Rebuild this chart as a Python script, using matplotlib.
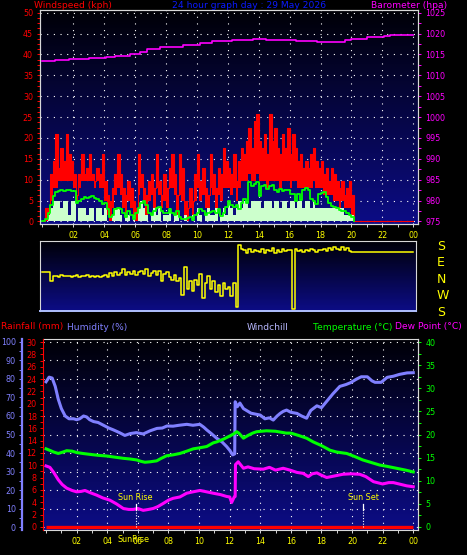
"""24 hour weather station graph: wind, wind direction, humidity / temperature.

python3 plot.py  ->  out.png
"""

import matplotlib
import numpy as np
from matplotlib.colors import LinearSegmentedColormap
from matplotlib.ticker import AutoMinorLocator, FixedLocator, MultipleLocator

matplotlib.use("Agg")
import matplotlib.pyplot as plt  # noqa: E402
import matplotlib.transforms as mtransforms  # noqa: E402

W, H = 467, 555
OUT_PNG = "out.png"

# ---- x axis -------------------------------------------------------------
HOUR_TICKS = [2, 4, 6, 8, 10, 12, 14, 16, 18, 20, 22, 24]
HOUR_LABELS = ["02", "04", "06", "08", "10", "12", "14", "16", "18", "20", "22", "00"]

# ---- wind, 10-minute samples from 00:00 (kph) ---------------------------
gust_hi = [
    0, 3.2, 3.2, 11.3, 14.5, 20.9,
    12.9, 17.7, 14.5, 20.9, 16.1, 14.5,
    11.3, 6.4, 11.3, 16.1, 11.3, 12.9,
    16.1, 11.3, 9.7, 12.9, 11.3, 16.1,
    9.7, 6.4, 4.8, 8.0, 11.3, 16.1,
    11.3, 8.0, 6.4, 9.7, 8.0, 4.8,
    3.2, 16.1, 11.3, 8.0, 6.4, 9.7,
    11.3, 8.0, 16.1, 9.7, 6.4, 11.3,
    8.0, 12.9, 16.1, 11.3, 6.4, 16.1,
    12.9, 4.8, 3.2, 8.0, 4.8, 11.3,
    16.1, 9.7, 12.9, 8.0, 6.4, 16.1,
    11.3, 8.0, 12.9, 11.3, 17.7, 14.5,
    12.9, 11.3, 16.1, 9.7, 14.5, 17.7,
    16.1, 19.3, 22.5, 17.7, 24.1, 25.7,
    19.3, 17.7, 20.9, 16.1, 25.7, 19.3,
    22.5, 17.7, 16.1, 20.9, 17.7, 22.5,
    16.1, 20.9, 17.7, 14.5, 16.1, 12.9,
    14.5, 12.9, 16.1, 17.7, 14.5, 12.9,
    14.5, 11.3, 12.9, 9.7, 12.9, 11.3,
    9.7, 8.0, 9.7, 6.4, 8.0, 9.7,
    6.4, 0,
]
gust_lo = [
    0, 0, 1.6, 4.8, 8.0, 8.0,
    9.7, 9.7, 9.7, 9.7, 9.7, 9.7,
    8.0, 4.8, 8.0, 9.7, 9.7, 9.7,
    9.7, 9.7, 8.0, 9.7, 8.0, 8.0,
    4.8, 1.6, 0, 3.2, 6.4, 8.0,
    6.4, 3.2, 1.6, 4.8, 3.2, 1.6,
    0, 6.4, 8.0, 4.8, 1.6, 4.8,
    6.4, 3.2, 8.0, 6.4, 3.2, 4.8,
    3.2, 8.0, 8.0, 6.4, 1.6, 6.4,
    4.8, 1.6, 0, 3.2, 1.6, 4.8,
    8.0, 4.8, 6.4, 3.2, 1.6, 8.0,
    6.4, 3.2, 6.4, 4.8, 8.0, 8.0,
    8.0, 6.4, 8.0, 4.8, 8.0, 9.7,
    9.7, 9.7, 11.3, 9.7, 9.7, 11.3,
    9.7, 9.7, 9.7, 8.0, 9.7, 9.7,
    9.7, 9.7, 8.0, 9.7, 9.7, 9.7,
    8.0, 9.7, 9.7, 8.0, 8.0, 8.0,
    8.0, 8.0, 8.0, 9.7, 8.0, 8.0,
    8.0, 6.4, 6.4, 6.4, 6.4, 4.8,
    4.8, 3.2, 4.8, 3.2, 3.2, 3.2,
    1.6, 0,
]
wind_avg = [
    0, 0.5, 2, 4, 6, 7,
    7.2, 7.5, 7.2, 7.5, 7.6, 7.4,
    7.2, 4.5, 4.8, 5.5, 5.8, 5.6,
    5.8, 6, 5.6, 5.5, 4.8, 4.2,
    4.5, 3, 1, 1.5, 3, 3.2,
    3, 2, 1, 2.5, 1.5, 0.5,
    2, 3.2, 4.5, 5, 4, 2,
    1.5, 2.5, 3.2, 3.5, 2.5, 2,
    2, 3, 2, 1.5, 2.5, 1,
    0.5, 0.5, 0.8, 1, 0.3, 1.5,
    2, 3, 2.5, 1.5, 2, 2.2,
    2.5, 2, 3, 1.2, 2, 3.5,
    5, 4, 3.5, 4, 3, 4.5,
    5.5, 4.5, 9.5, 8.5, 9, 9.4,
    6, 8.5, 8.8, 7.8, 8.5, 8.8,
    7.5, 7, 7.8, 7.2, 7.5, 7.5,
    6.6, 6.5, 5, 6.5, 5.2, 7.5,
    8, 7.5, 5.4, 5, 4.2, 6.6,
    6.8, 7, 5.8, 4.5, 3.6, 3.4,
    3.2, 2.8, 2.5, 2.4, 2, 1.5,
    1, 0,
]
wind_speed = [
    0, 0, 1.6, 3.2, 4.8, 4.8,
    4.8, 3.2, 4.8, 4.8, 1.6, 4.8,
    4.8, 0, 3.2, 3.2, 3.2, 1.6,
    3.2, 3.2, 0, 3.2, 3.2, 1.6,
    3.2, 0, 0, 1.6, 3.2, 3.2,
    1.6, 0, 1.6, 1.6, 0, 1.6,
    0, 3.2, 4.8, 3.2, 1.6, 0,
    1.6, 3.2, 1.6, 3.2, 0, 1.6,
    1.6, 3.2, 0, 1.6, 1.6, 0,
    0, 1.6, 0, 0, 1.6, 0,
    3.2, 1.6, 0, 1.6, 3.2, 1.6,
    1.6, 3.2, 0, 1.6, 3.2, 1.6,
    4.8, 3.2, 1.6, 3.2, 4.8, 3.2,
    4.8, 4.8, 3.2, 4.8, 4.8, 4.8,
    4.8, 3.2, 4.8, 4.8, 4.8, 3.2,
    4.8, 4.8, 3.2, 4.8, 4.8, 3.2,
    4.8, 4.8, 3.2, 4.8, 4.8, 3.2,
    4.8, 4.8, 3.2, 4.8, 3.2, 3.2,
    3.2, 3.2, 3.2, 3.2, 3.2, 3.2,
    3.2, 3.2, 3.2, 1.6, 1.6, 1.6,
    1.6, 0,
]
# compass degrees, same 10-minute samples; steady at 140 after 20:10
wind_dir = [
    34, 30, 34, 340, 10, 12,
    5, 15, 10, 8, 12, 5,
    10, 18, 5, 12, 8, 15,
    5, 10, 2, 12, 6, 8,
    15, 5, 25, 8, 30, 18,
    25, 49, 15, 30, 20, 35,
    15, 30, 40, 20, 49, 10,
    25, 35, 15, 40, 345, 20,
    30, 5, 350, 15, 340, 0,
    267, 62, 300, 340, 285, 350,
    320, 20, 250, 330, 10, 300,
    340, 280, 320, 260, 330, 300,
    310, 259, 330, 200, 178, 160,
    150, 135, 160, 140, 155, 145,
    140, 160, 135, 150, 145, 165,
    135, 150, 140, 160, 145, 150,
    155, 191, 160, 145, 150, 140,
    155, 145, 160, 150, 140, 155,
    150, 160, 145, 165, 155, 170,
    160, 150, 170, 155, 165, 148,
    140, 140,
]
DIR_TICKS = [180, 90, 0, -90, -180]
DIR_LABELS = ["S", "E", "N", "W", "S"]

# ---- barometer (hPa) ----------------------------------------------------
baro_hours = [0, 0.8, 1.7, 3.0, 4.1, 4.7, 5.7, 6.3, 6.8, 7.6, 8.2, 9.1, 10.2,
              11.0, 12.3, 13.6, 14.5, 16.4, 17.8, 19.6, 20.0, 21.0, 22.1, 22.5, 24.0]
baro_hpa = [1013.4, 1013.6, 1014.0, 1014.1, 1014.5, 1014.6, 1015.1, 1015.7, 1016.3,
            1016.7, 1016.9, 1017.2, 1017.8, 1018.2, 1018.5, 1018.7, 1018.4, 1018.2,
            1018.1, 1018.4, 1018.7, 1019.1, 1019.4, 1019.7, 1019.7]

# ---- humidity (%) -------------------------------------------------------
hum_hours = [0.0, 0.2, 0.4, 0.6, 0.8, 1.0, 1.25, 1.5, 1.8, 2.0, 2.2, 2.45, 2.65,
             2.85, 3.1, 3.4, 3.75, 4.1, 4.4, 4.8, 5.15, 5.5, 5.9, 6.35, 6.8, 7.25,
             7.6, 7.9, 8.3, 8.7, 9.2, 9.6, 10.05, 10.3, 10.5, 10.8, 11.15, 11.5,
             11.8, 12.0, 12.2, 12.33, 12.36, 12.5, 12.67, 12.9, 13.1, 13.4, 13.7,
             14.0, 14.3, 14.6, 14.85, 15.1, 15.3, 15.5, 15.72, 16.0, 16.4, 16.7,
             17.03, 17.3, 17.7, 18.0, 18.35, 18.75, 19.2, 19.6, 19.9, 20.3, 20.6,
             21.0, 21.3, 21.5, 21.9, 22.3, 22.7, 23.1, 23.6, 24.0]
humidity = [78.5, 81, 80.5, 76, 69, 64, 60, 58.5, 58.5, 58, 58.5, 60, 59.5,
            58, 57, 56.5, 55, 53.5, 52.5, 51, 49.5, 50.5, 51, 50.3, 52, 53.3,
            53.5, 54.6, 54.5, 55, 55.5, 55, 55.5, 54, 52.5, 50.5, 48, 46,
            43.5, 41.5, 39, 39.5, 67.7, 65, 67, 64, 63, 61.5, 61,
            60.5, 58.5, 59, 57.8, 60, 61.4, 62.5, 63.2, 62, 61.4, 60,
            58.8, 63, 65.5, 64.5, 68, 72, 76, 77, 78, 80, 81.2,
            81.2, 79, 78.2, 78.2, 80.9, 81.5, 82.5, 83.3, 83.4]

# ---- temperature and dew point (deg C) ----------------------------------
temp_hours = [0.0, 0.3, 0.5, 0.8, 1.1, 1.35, 1.7, 2.0, 2.4, 2.87, 3.4, 3.96, 4.5,
              5.05, 5.5, 5.92, 6.2, 6.46, 6.8, 7.23, 7.5, 7.88, 8.3, 8.75, 9.2,
              9.62, 10.0, 10.5, 10.93, 11.15, 11.6, 12.02, 12.3, 12.46, 12.6,
              12.9, 13.2, 13.5, 13.76, 14.4, 15.0, 15.7, 16.0, 16.5, 17.03, 17.46,
              18.0, 18.56, 19.0, 19.65, 20.2, 20.7, 21.2, 21.8, 22.3, 22.9, 23.5, 24.0]
temperature = [16.9, 16.5, 16.2, 15.9, 16.2, 16.5, 16.4, 16.1, 15.9, 15.7, 15.5,
               15.35, 15.1, 14.85, 14.7, 14.5, 14.2, 14.0, 14.1, 14.3, 14.8, 15.4,
               15.6, 15.9, 16.4, 16.9, 17.1, 17.4, 18.2, 18.4, 19.0, 19.7, 20.2,
               20.6, 20.3, 19.2, 19.8, 20.3, 20.6, 20.8, 20.7, 20.3, 20.3, 19.8,
               19.2, 18.4, 17.6, 16.6, 16.2, 15.9, 15.2, 14.5, 14.0, 13.4, 13.1,
               12.7, 12.3, 11.9]
dew_hours = [0.0, 0.25, 0.5, 0.8, 1.05, 1.35, 1.7, 2.0, 2.3, 2.54, 2.9, 3.3, 3.7,
             4.17, 4.6, 5.05, 5.4, 5.7, 6.0, 6.35, 6.7, 7.0, 7.3, 7.66, 8.0, 8.3,
             8.75, 9.19, 9.6, 10.06, 10.5, 10.93, 11.4, 11.8, 12.0, 12.13, 12.3,
             12.36, 12.38, 12.56, 12.9, 13.2, 13.6, 14.2, 14.6, 15.0, 15.5, 15.94,
             16.4, 16.8, 17.14, 17.4, 17.7, 18.0, 18.34, 18.8, 19.4, 19.9, 20.5,
             20.9, 21.4, 22.0, 22.4, 22.7, 23.2, 23.57, 24.0]
dew_point = [13.2, 12.9, 11.8, 10.2, 9.2, 8.4, 7.9, 7.6, 7.7, 7.9, 7.4, 6.9, 6.3,
             5.8, 5.0, 4.0, 3.8, 3.8, 4.0, 3.6, 3.8, 4.0, 4.4, 5.1, 5.8, 6.2,
             6.5, 7.3, 7.6, 7.9, 7.6, 7.3, 7.0, 6.6, 6.5, 5.3, 6.5,
             6.6, 13.5, 14.1, 12.7, 13.0, 12.6, 12.5, 12.9, 12.3, 12.7, 12.3,
             11.8, 11.6, 10.9, 11.5, 11.7, 11.2, 10.7, 11.0, 11.4, 11.5, 11.4,
             10.9, 9.8, 9.3, 9.6, 9.6, 9.2, 8.9, 8.7]

# ---- rainfall (mm): none all day ---------------------------------------
rain_hours = [0.0, 24.0]
rain_mm = [0.0, 0.0]

SUN_EVENTS = [("Sun Rise", 5.86), ("Sun Set", 20.72)]

FRAME = "#d8d8d8"
GRID = dict(color="white", linestyle=(0, (1, 5)), linewidth=0.8)
SKY = LinearSegmentedColormap.from_list("sky", ["#0c0c86", "#000006"])
TICK_FS = 5.8
HEAD_FS = 6.6


def px_rect(left, top, right, bottom):
    """Axes rectangle from pixel edges (origin top-left)."""
    return [left / W, 1 - bottom / H, (right - left) / W, (bottom - top) / H]


def backdrop(ax):
    ramp = np.linspace(0, 1, 256).reshape(-1, 1)
    ax.imshow(ramp, cmap=SKY, aspect="auto", extent=(0, 1, 0, 1), origin="lower",
              transform=ax.transAxes, interpolation="bilinear", zorder=0)


def hour_axis(ax):
    ax.xaxis.set_major_locator(FixedLocator(HOUR_TICKS))
    ax.set_xticklabels(HOUR_LABELS)
    ax.xaxis.set_minor_locator(MultipleLocator(1))
    ax.tick_params(axis="x", which="both", colors=FRAME, labelcolor="#ffff00",
                   labelsize=TICK_FS, length=2, width=0.7, pad=3)


def head(x, y, text, color, ha="left"):
    plt.gcf().text(x / W, 1 - y / H, text, color=color, fontsize=HEAD_FS,
                   ha=ha, va="center")


fig = plt.figure(figsize=(W / 100, H / 100), dpi=100, facecolor="black")

# ---------------- wind speed + barometer ----------------
t_wind = np.arange(len(gust_hi)) / 6
t_tail = np.append(t_wind, 24.0)

ax = fig.add_axes(px_rect(40, 10, 418, 224))
backdrop(ax)
ax.set_axisbelow(True)
ax.fill_between(t_wind, gust_lo, gust_hi, step="post", color="#ff0000", lw=0)
ax.step(t_tail, np.append(gust_hi, 0.0), where="post", color="#ff0000", lw=0.8)
ax.fill_between(t_wind, 0, wind_speed, step="post", color="#ccffcc", lw=0)
ax.step(t_wind, wind_avg, where="post", color="#00ff00", lw=1.3)
ax.set_xlim(-0.155, 24.31)
ax.set_ylim(-0.6, 50.65)
hour_axis(ax)
ax.yaxis.set_major_locator(MultipleLocator(5))
ax.yaxis.set_minor_locator(AutoMinorLocator(4))
ax.tick_params(axis="y", which="both", colors="#ff0000", labelsize=TICK_FS,
               length=2, width=0.7, pad=3)
ax.grid(True, **GRID)
for s in ax.spines.values():
    s.set_color(FRAME)

axb = ax.twinx()
axb.step(baro_hours, baro_hpa, where="post", color="#ff00ff", lw=1.2)
axb.set_ylim(974.4, 1025.65)
axb.yaxis.set_major_locator(MultipleLocator(5))
axb.yaxis.set_minor_locator(AutoMinorLocator(2))
axb.tick_params(axis="y", which="both", colors="#ff00ff", labelsize=TICK_FS,
                length=2.5, width=0.7, pad=3)
for s in axb.spines.values():
    s.set_color(FRAME)

head(34, 5.5, "Windspeed (kph)", "#ff0000")
head(172, 5.5, "24 hour graph day : 29 May 2026", "#0a1aff")
head(447, 5.5, "Barometer (hpa)", "#ff00ff", ha="right")

# ---------------- wind direction ----------------
wind_dir = np.asarray(wind_dir, dtype=float)
dir_plot = np.where(wind_dir > 180, wind_dir - 360, wind_dir)
axd = fig.add_axes(px_rect(40, 241, 416, 311))
backdrop(axd)
axd.step(np.append(t_wind, 24.0), np.append(dir_plot, dir_plot[-1]),
         where="post", color="#ffff00", lw=1.1)
axd.set_xlim(-0.155, 24.18)
axd.set_ylim(-182, 202)
axd.set_xticks([])
axd.yaxis.tick_right()
axd.set_yticks(DIR_TICKS, DIR_LABELS)
axd.tick_params(axis="y", length=0, pad=15, labelsize=9, labelcolor="#ffff00")
for s in axd.spines.values():
    s.set_color(FRAME)
axd.spines["bottom"].set_color("#b0c0ff")
axd.spines["bottom"].set_linewidth(1.4)

# ---------------- humidity / rain / temperature ----------------
axh = fig.add_axes(px_rect(43, 339, 418, 530))
backdrop(axh)
axh.set_axisbelow(True)
axh.plot(hum_hours, humidity, color="#8080ff", lw=2.2)
axh.set_xlim(-0.2, 24.31)
axh.set_ylim(-1.62, 101.62)
hour_axis(axh)
axh.yaxis.set_major_locator(MultipleLocator(10))
axh.yaxis.set_minor_locator(AutoMinorLocator(2))
axh.tick_params(axis="y", which="both", colors="#8080ff", labelsize=TICK_FS,
                length=2, width=0.7, pad=2.5)
axh.grid(True, **GRID)
for s in axh.spines.values():
    s.set_color(FRAME)
axh.spines["left"].set_position(("axes", -21 / 375))
axh.spines["left"].set_color("#8080ff")
axh.spines["left"].set_linewidth(1.6)

axr = axh.twinx()
axr.yaxis.tick_left()
axr.plot(rain_hours, rain_mm, color="#ff0000", lw=2.4, solid_capstyle="butt")
axr.set_ylim(-0.49, 30.49)
axr.yaxis.set_major_locator(MultipleLocator(2))
axr.yaxis.set_minor_locator(AutoMinorLocator(2))
axr.tick_params(axis="y", which="both", colors="#ff0000", labelsize=TICK_FS,
                length=2, width=0.7, pad=2.5)
for name, s in axr.spines.items():
    s.set_visible(name == "left")
axr.spines["left"].set_color("#ff0000")

axt = axh.twinx()
axt.plot(temp_hours, temperature, color="#00ff00", lw=2.2)
axt.plot(dew_hours, dew_point, color="#ff00ff", lw=2.2)
axt.set_ylim(-0.65, 40.65)
axt.yaxis.set_major_locator(MultipleLocator(5))
axt.yaxis.set_minor_locator(AutoMinorLocator(2))
axt.tick_params(axis="y", which="both", colors="#00ff00", labelsize=TICK_FS,
                length=2.5, width=0.7, pad=3)
for name, s in axt.spines.items():
    s.set_visible(name == "right")
axt.spines["right"].set_color(FRAME)

blend = mtransforms.blended_transform_factory(axt.transData, axt.transAxes)
for label, hour in SUN_EVENTS:
    axt.axvline(hour, ymin=0.016, ymax=0.105, color="white", lw=0.8, ls=(0, (1, 1.5)))
    axt.axvline(hour, ymin=0.105, ymax=0.137, color="white", lw=0.9)
    axt.text(hour, 0.168, label, transform=blend, color="#ffff00",
             fontsize=TICK_FS, ha="center", va="center")
sunrise_hour = SUN_EVENTS[0][1]
axt.text(sunrise_hour - 0.15, -0.052, "SunRise", transform=blend, color="#ffff00",
         fontsize=TICK_FS, ha="center", va="center", clip_on=False)

head(1, 327, "Rainfall (mm)", "#ff0000")
head(67, 327, "Humidity (%)", "#8080ff")
head(247, 327, "Windchill", "#b8b8ff")
head(313, 327, "Temperature (\u00b0C)", "#00ff00")
head(462, 327, "Dew Point (\u00b0C)", "#ff00ff", ha="right")

fig.savefig(OUT_PNG, dpi=100, facecolor="black")
plt.close(fig)
